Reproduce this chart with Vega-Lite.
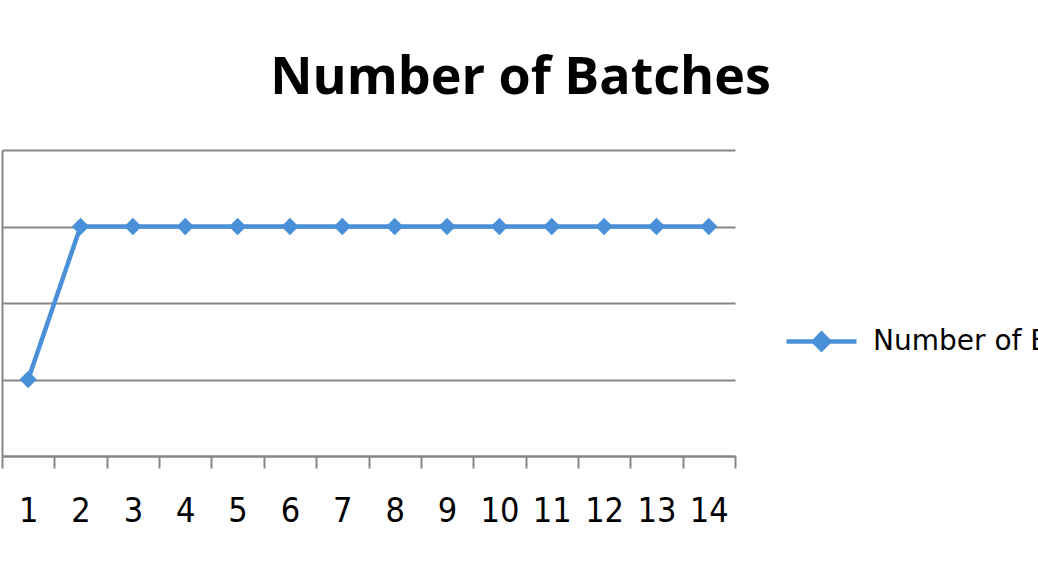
{
  "$schema": "https://vega.github.io/schema/vega-lite/v6.json",
  "autosize": "none",
  "width": 733,
  "height": 306,
  "padding": {"left": 2, "top": 150, "right": 303, "bottom": 120},
  "background": "white",
  "title": {
    "text": "Number of Batches",
    "font": "Open Sans",
    "fontSize": 52,
    "fontWeight": "bold",
    "color": "#000000",
    "anchor": "middle",
    "frame": "group",
    "dx": 152,
    "baseline": "bottom",
    "offset": -7
  },
  "config": {
    "view": {"stroke": null},
    "axis": {"grid": false}
  },
  "data": {
    "values": [
      {"period": 1, "batches": 1, "series": "Number of Batches"},
      {"period": 2, "batches": 3, "series": "Number of Batches"},
      {"period": 3, "batches": 3, "series": "Number of Batches"},
      {"period": 4, "batches": 3, "series": "Number of Batches"},
      {"period": 5, "batches": 3, "series": "Number of Batches"},
      {"period": 6, "batches": 3, "series": "Number of Batches"},
      {"period": 7, "batches": 3, "series": "Number of Batches"},
      {"period": 8, "batches": 3, "series": "Number of Batches"},
      {"period": 9, "batches": 3, "series": "Number of Batches"},
      {"period": 10, "batches": 3, "series": "Number of Batches"},
      {"period": 11, "batches": 3, "series": "Number of Batches"},
      {"period": 12, "batches": 3, "series": "Number of Batches"},
      {"period": 13, "batches": 3, "series": "Number of Batches"},
      {"period": 14, "batches": 3, "series": "Number of Batches"}
    ]
  },
  "mark": {
    "type": "line",
    "strokeWidth": 4.5,
    "point": {"filled": true, "shape": "diamond", "size": 300}
  },
  "encoding": {
    "x": {
      "field": "period",
      "type": "quantitative",
      "scale": {"domain": [0.5, 14.5], "nice": false, "zero": false},
      "axis": {
        "title": null,
        "values": [0.5, 1, 1.5, 2, 2.5, 3, 3.5, 4, 4.5, 5, 5.5, 6, 6.5, 7, 7.5, 8, 8.5, 9, 9.5, 10, 10.5, 11, 11.5, 12, 12.5, 13, 13.5, 14, 14.5],
        "labelExpr": "datum.value % 1 === 0 ? format(datum.value, 'd') : ''",
        "tickOpacity": {"condition": {"test": "datum.value % 1 === 0", "value": 0}, "value": 1},
        "tickSize": 12,
        "tickWidth": 2,
        "tickColor": "#868686",
        "domainColor": "#868686",
        "domainWidth": 2,
        "labelFont": "Liberation Sans Narrow, DejaVu Sans Condensed, sans-serif",
        "labelFontSize": 34,
        "labelColor": "#000000",
        "labelPadding": 26,
        "labelOverlap": false,
        "labelFlush": false,
        "grid": false
      }
    },
    "y": {
      "field": "batches",
      "type": "quantitative",
      "scale": {"domain": [0, 4], "nice": false},
      "axis": {
        "title": null,
        "values": [0, 1, 2, 3, 4],
        "labels": false,
        "ticks": false,
        "grid": true,
        "gridColor": "#868686",
        "gridWidth": 2,
        "domainColor": "#868686",
        "domainWidth": 2
      }
    },
    "color": {
      "field": "series",
      "type": "nominal",
      "scale": {"range": ["#4a90d8"]},
      "legend": {
        "title": null,
        "orient": "none",
        "legendX": 782,
        "legendY": 154,
        "symbolType": "M-1,0H1M-0.22,0L0,-0.22L0.22,0L0,0.22Z",
        "symbolSize": 4900,
        "symbolStrokeWidth": 4.5,
        "symbolFillColor": "#4a90d8",
        "symbolStrokeColor": "#4a90d8",
        "labelFont": "DejaVu Sans",
        "labelFontSize": 28,
        "labelColor": "#000000",
        "labelOffset": 14,
        "labelLimit": 400
      }
    }
  }
}
